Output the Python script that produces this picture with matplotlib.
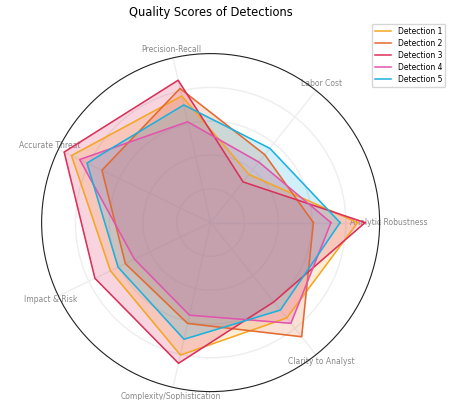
import numpy as np
import matplotlib
matplotlib.use("Agg")
import matplotlib.pyplot as plt

# criteria, counter-clockwise starting at 3 o'clock
criteria = ["Analytic Robustness", "Labor Cost", "Precision-Recall", "Accurate Threat",
            "Impact & Risk", "Complexity/Sophistication", "Clarity to Analyst"]

detection_1 = [4.35, 1.82, 3.84, 4.57, 3.29, 4.02, 3.61]
detection_2 = [3.04, 2.57, 4.07, 3.57, 2.80, 3.06, 4.32]
detection_3 = [4.57, 1.54, 4.32, 4.81, 3.80, 4.27, 3.00]
detection_4 = [3.56, 2.29, 3.06, 4.30, 2.50, 2.81, 3.81]
detection_5 = [3.83, 2.81, 3.57, 4.06, 3.04, 3.54, 3.31]

series = [detection_1, detection_2, detection_3, detection_4, detection_5]
names = ["Detection 1", "Detection 2", "Detection 3", "Detection 4", "Detection 5"]
colors = ["#F5A623", "#E4692F", "#DC2F5A", "#E353AE", "#1CB0DE"]

angles = np.linspace(0, 2 * np.pi, len(criteria), endpoint=False)
closed = np.concatenate([angles, angles[:1]])

fig = plt.figure(figsize=(4.52, 4.0), dpi=100)
ax = fig.add_axes([0.092, 0.021, 0.748, 0.845], polar=True)
ax.set_axisbelow(True)

for vals, name, col in zip(series, names, colors):
    v = vals + vals[:1]
    ax.fill(closed, v, color=col, alpha=0.2, zorder=3)
    ax.plot(closed, v, color=col, linewidth=1.1, label=name, zorder=4)

ax.set_ylim(0, 5)
ax.set_yticks([1, 2, 3, 4])
ax.set_yticklabels([])
ax.set_xticks(angles)
ax.set_xticklabels(criteria, color="#888888", fontsize=5.5)
ax.tick_params(axis="x", pad=-4)
ax.grid(color="#eeeeee", linewidth=1.0)
ax.spines["polar"].set_color("#222222")
ax.spines["polar"].set_linewidth(0.8)

ax.set_title("Quality Scores of Detections", fontsize=8.3, pad=27)
ax.legend(loc="upper right", bbox_to_anchor=(1.205, 1.10), fontsize=5.5,
          frameon=True, handlelength=2.2, labelspacing=0.4)

fig.savefig("out.png", dpi=100)
